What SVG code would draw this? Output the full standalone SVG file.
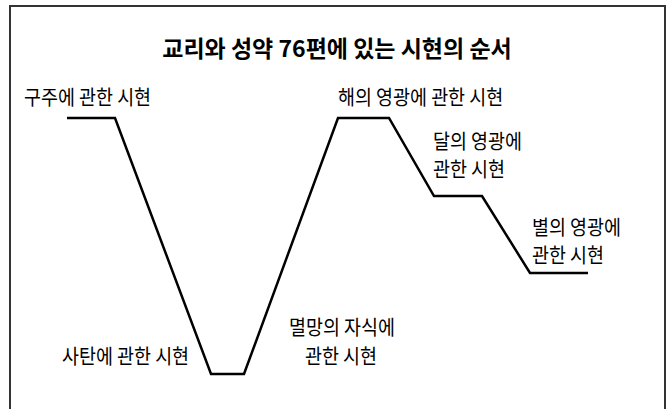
<svg xmlns="http://www.w3.org/2000/svg" width="672" height="409" viewBox="0 0 672 409">
<style>
.title{font-family:"Noto Sans CJK KR","Noto Sans",sans-serif;font-size:23px;font-weight:bold;fill:#000}
.lbl{font-family:"Noto Sans CJK KR","Noto Sans",sans-serif;font-size:20.5px;fill:#000}
.line{fill:none;stroke:#000;stroke-width:2.5;stroke-linejoin:miter}
</style>
<rect width="672" height="409" fill="#fff"/>
<path d="M10,420 V6 H665 V420" fill="none" stroke="#333" stroke-width="2"/>
<text class="title" x="337" y="57" text-anchor="middle">교리와 성약 76편에 있는 시현의 순서</text>
<g id="connectors">
<path class="line" d="M67,118 H115 L211,374 H244 L338,118 H389 L434,196 H482 L530,273 H588"/>
</g>
<g id="node-savior"><text class="lbl" transform="translate(24 105) scale(0.9 1)">구주에 관한 시현</text></g>
<g id="node-satan"><text class="lbl" transform="translate(62 364) scale(0.9 1)">사탄에 관한 시현</text></g>
<g id="node-perdition"><text class="lbl" transform="translate(289 335) scale(0.9 1)">멸망의 자식에</text><text class="lbl" transform="translate(305 364) scale(0.9 1)">관한 시현</text></g>
<g id="node-celestial"><text class="lbl" transform="translate(338 105) scale(0.9 1)">해의 영광에 관한 시현</text></g>
<g id="node-terrestrial"><text class="lbl" transform="translate(433 149) scale(0.9 1)">달의 영광에</text><text class="lbl" transform="translate(433 177) scale(0.9 1)">관한 시현</text></g>
<g id="node-telestial"><text class="lbl" transform="translate(532 235) scale(0.9 1)">별의 영광에</text><text class="lbl" transform="translate(532 263) scale(0.9 1)">관한 시현</text></g>
</svg>
